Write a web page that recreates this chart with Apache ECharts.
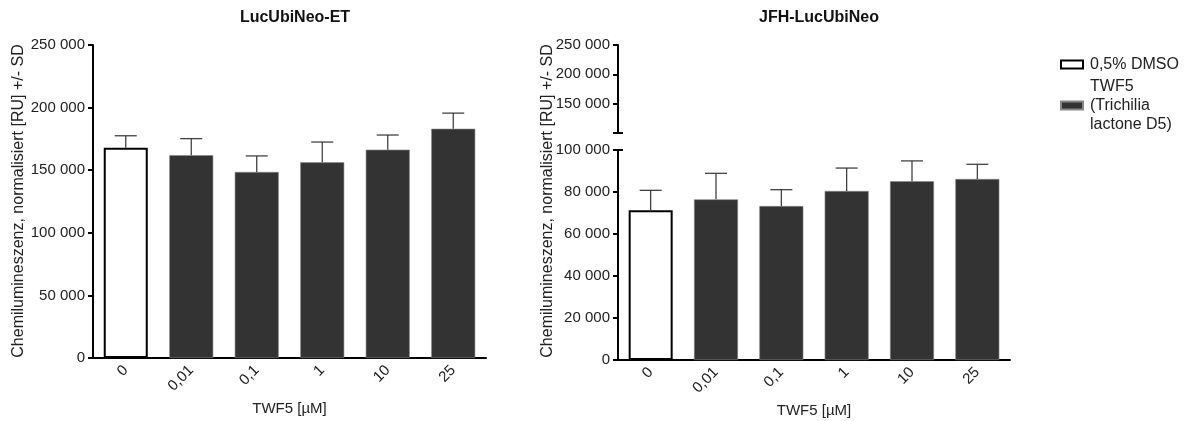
<!DOCTYPE html>
<html>
<head>
<meta charset="utf-8">
<script src="https://cdn.jsdelivr.net/npm/echarts@6/dist/echarts.min.js"></script>
<style>
  body { margin: 0; background: #fff; }
  #main { width: 1189px; height: 421px; }
</style>
</head>
<body>
<div id="main"></div>
<script>
// Konzentrationen (x-Achse)
var categories = ['0', '0,01', '0,1', '1', '10', '25'];
// LucUbiNeo-ET: Mittelwerte und SD
var leftMean = [168000, 162000, 148600, 156300, 166400, 183100];
var leftSD = [9500, 13200, 12800, 16200, 11700, 12500];
// JFH-LucUbiNeo: Mittelwerte und SD
var rightMean = [71300, 76500, 73300, 80500, 85100, 86200];
var rightSD = [9500, 12400, 7800, 10900, 9700, 7000];
// Achsenbereiche [min, max, interval]
var leftTicks = [0, 250000, 50000];
var rightLowTicks = [0, 100000, 20000];
var rightHighTicks = [100000, 250000, 50000];

var dmsoName = '0,5% DMSO';
var twfName = 'TWF5 (Trichilia lactone D5)';
var font = 'Liberation Sans, Arial, sans-serif';

function fmt(v) {
  return String(v).replace(/\B(?=(\d{3})+(?!\d))/g, ' ');
}
function onlyFirst(arr) {
  return arr.map(function (v, i) { return i === 0 ? v : '-'; });
}
function exceptFirst(arr) {
  return arr.map(function (v, i) { return i === 0 ? '-' : v; });
}
function errData(mean, sd) {
  return mean.map(function (m, i) { return [i, m, sd[i]]; });
}
// Fehlerbalken nur nach oben (+SD)
function errRender(params, api) {
  var x = api.value(0), m = api.value(1), s = api.value(2);
  var b = api.coord([x, m]);
  var t = api.coord([x, m + s]);
  var st = { stroke: '#333', lineWidth: 1.2 };
  return {
    type: 'group',
    children: [
      { type: 'line', shape: { x1: b[0], y1: b[1], x2: t[0], y2: t[1] }, style: st },
      { type: 'line', shape: { x1: t[0] - 11, y1: t[1], x2: t[0] + 11, y2: t[1] }, style: st }
    ]
  };
}

function xAx(grid, show) {
  return {
    type: 'category', gridIndex: grid, data: categories, show: show,
    axisLine: { lineStyle: { color: '#000', width: 2 } },
    axisTick: { alignWithLabel: true, length: 5, lineStyle: { color: '#000', width: 2 } },
    axisLabel: { rotate: 45, color: '#222', fontSize: 15, fontFamily: font, margin: 10 },
    name: 'TWF5 [µM]', nameLocation: 'middle', nameGap: 43,
    nameTextStyle: { color: '#222', fontSize: 15, fontFamily: font }
  };
}
function yAx(grid, t, hideMin) {
  return {
    type: 'value', gridIndex: grid, min: t[0], max: t[1], interval: t[2],
    axisLine: { show: true, lineStyle: { color: '#000', width: 2 } },
    axisTick: { show: true, length: 5, lineStyle: { color: '#000', width: 2 } },
    splitLine: { show: false },
    axisLabel: {
      color: '#222', fontSize: 15, fontFamily: font, margin: 8,
      showMinLabel: !hideMin, formatter: fmt
    }
  };
}

var yName = 'Chemilumineszenz, normalisiert [RU] +/- SD';
function yNameText(x) {
  return { type: 'text', x: x, y: 201, rotation: Math.PI / 2,
    style: { text: yName, fill: '#222', font: '16px ' + font,
      textAlign: 'center', textVerticalAlign: 'middle' } };
}

var myChart = echarts.init(document.getElementById('main'));
var option = {
  animation: false,
  title: [
    { text: 'LucUbiNeo-ET', left: 290, top: 5, textAlign: 'center',
      textStyle: { fontSize: 16, fontWeight: 'bold', color: '#111', fontFamily: font } },
    { text: 'JFH-LucUbiNeo', left: 814, top: 5, textAlign: 'center',
      textStyle: { fontSize: 16, fontWeight: 'bold', color: '#111', fontFamily: font } }
  ],
  legend: {
    orient: 'vertical', left: 1055, top: 50, itemGap: 3,
    itemWidth: 22, itemHeight: 8, icon: 'rect',
    data: [dmsoName, twfName],
    formatter: function (n) {
      return n === twfName ? 'TWF5\n(Trichilia\nlactone D5)' : n;
    },
    textStyle: { color: '#222', fontSize: 16, lineHeight: 19, fontFamily: font, padding: [0, 0, 0, 2] }
  },
  grid: [
    { left: 93, top: 45, width: 393, height: 314 },
    { left: 618, top: 150, width: 392, height: 210 },
    { left: 618, top: 45, width: 392, height: 88 }
  ],
  xAxis: [xAx(0, true), xAx(1, true), xAx(2, false)],
  yAxis: [yAx(0, leftTicks, false), yAx(1, rightLowTicks, false), yAx(2, rightHighTicks, true)],
  graphic: [yNameText(19), yNameText(548)],
  series: [
    { name: dmsoName, type: 'bar', xAxisIndex: 0, yAxisIndex: 0, barWidth: 44, barGap: '-100%',
      data: onlyFirst(leftMean), itemStyle: { color: '#fff', borderColor: '#000', borderWidth: 2 } },
    { name: twfName, type: 'bar', xAxisIndex: 0, yAxisIndex: 0, barWidth: 44, barGap: '-100%',
      data: exceptFirst(leftMean), itemStyle: { color: '#333', borderColor: '#888', borderWidth: 0.6 } },
    { type: 'custom', xAxisIndex: 0, yAxisIndex: 0, renderItem: errRender, z: 5,
      data: errData(leftMean, leftSD) },
    { name: dmsoName, type: 'bar', xAxisIndex: 1, yAxisIndex: 1, barWidth: 44, barGap: '-100%',
      data: onlyFirst(rightMean), itemStyle: { color: '#fff', borderColor: '#000', borderWidth: 2 } },
    { name: twfName, type: 'bar', xAxisIndex: 1, yAxisIndex: 1, barWidth: 44, barGap: '-100%',
      data: exceptFirst(rightMean), itemStyle: { color: '#333', borderColor: '#888', borderWidth: 0.6 } },
    { type: 'custom', xAxisIndex: 1, yAxisIndex: 1, renderItem: errRender, z: 5,
      data: errData(rightMean, rightSD) }
  ]
};
myChart.setOption(option);

// Achsenbruch: kurze Querstriche an den Enden der beiden Achsenstuecke
var capHigh = myChart.convertToPixel({ xAxisIndex: 2, yAxisIndex: 2 }, [0, rightHighTicks[0]]);
var capLow = myChart.convertToPixel({ xAxisIndex: 1, yAxisIndex: 1 }, [0, rightLowTicks[1]]);
var axX = 618;
myChart.setOption({
  graphic: [
    yNameText(19), yNameText(548),
    { type: 'line', shape: { x1: axX - 5, y1: capHigh[1], x2: axX + 5, y2: capHigh[1] },
      style: { stroke: '#000', lineWidth: 2 } },
    { type: 'line', shape: { x1: axX, y1: capLow[1], x2: axX + 5, y2: capLow[1] },
      style: { stroke: '#000', lineWidth: 2 } }
  ]
});
</script>
</body>
</html>
